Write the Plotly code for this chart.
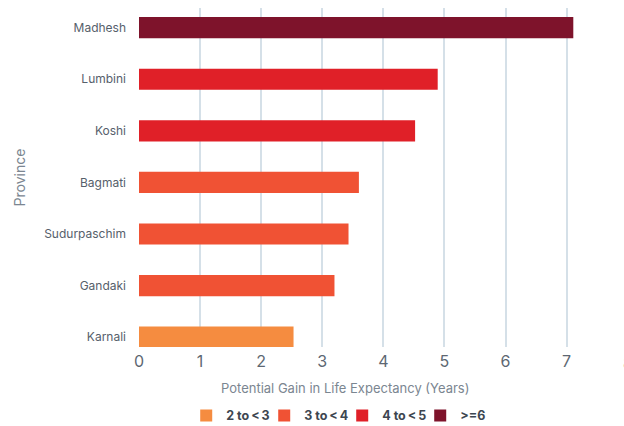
import plotly.graph_objects as go

# Potential gain in life expectancy by province (years)
provinces = ["Karnali", "Gandaki", "Sudurpaschim", "Bagmati", "Koshi", "Lumbini", "Madhesh"]
gains = [2.53, 3.20, 3.43, 3.60, 4.52, 4.89, 7.11]
groups = ["2 to\u2009<\u20093", "3 to\u2009<\u20094", "3 to\u2009<\u20094", "3 to\u2009<\u20094",
          "4 to\u2009<\u20095", "4 to\u2009<\u20095", ">=6"]

group_order = ["2 to\u2009<\u20093", "3 to\u2009<\u20094", "4 to\u2009<\u20095", ">=6"]
group_colors = {
    "2 to\u2009<\u20093": "#f58c40",
    "3 to\u2009<\u20094": "#f05234",
    "4 to\u2009<\u20095": "#e02028",
    ">=6": "#7e132b",
}

x_ticks = [0, 1, 2, 3, 4, 5, 6, 7]
x_max = 7.94

FONT = "Inter, Roboto, sans-serif"

fig = go.Figure()
for g in group_order:
    ys = [p for p, grp in zip(provinces, groups) if grp == g]
    xs = [v for v, grp in zip(gains, groups) if grp == g]
    fig.add_trace(go.Bar(
        x=xs, y=ys, orientation="h", name=g,
        marker=dict(color=group_colors[g], line=dict(width=0)),
        width=0.41,
    ))

fig.update_layout(
    width=624, height=426,
    margin=dict(l=139, r=0, t=8, b=79, autoexpand=False),
    paper_bgcolor="white", plot_bgcolor="white",
    barmode="overlay",
    font=dict(family=FONT),
    legend=dict(
        orientation="h", x=0.419, xanchor="center", y=-0.203, yanchor="middle",
        font=dict(size=12.5, color="#3d4650", weight="bold"),
        itemwidth=30, entrywidth=33, traceorder="normal",
    ),
    xaxis=dict(
        range=[0, x_max], tickvals=x_ticks,
        showgrid=True, gridcolor="#d5e0e8", gridwidth=1.5,
        zeroline=False, showline=False,
        tickfont=dict(size=16, color="#5d6772"),
        ticks="", ticklabelstandoff=3, fixedrange=True,
    ),
    yaxis=dict(
        categoryorder="array", categoryarray=provinces,
        range=[-0.19, 6.38],
        showgrid=False, zeroline=False, showline=False,
        tickfont=dict(size=12, color="#56606b"),
        ticks="", ticklabelstandoff=12,
        title=dict(text="Province", font=dict(size=14, color="#7b8691"), standoff=15),
    ),
)

# x-axis title
fig.add_annotation(
    x=0.424, xref="paper", y=-0.121, yref="paper",
    text="Potential Gain in Life Expectancy (Years)", showarrow=False,
    xanchor="center", yanchor="middle",
    font=dict(size=13, color="#7b8691", family=FONT),
)

# last tick label sits just past the right edge of the plotting area
fig.add_annotation(
    x=8 / x_max, xref="paper", y=0, yref="paper", yshift=-16,
    text="8", showarrow=False, xanchor="center", yanchor="middle",
    font=dict(size=16, color="#5d6772", family=FONT),
)

fig.write_html("out.html")
